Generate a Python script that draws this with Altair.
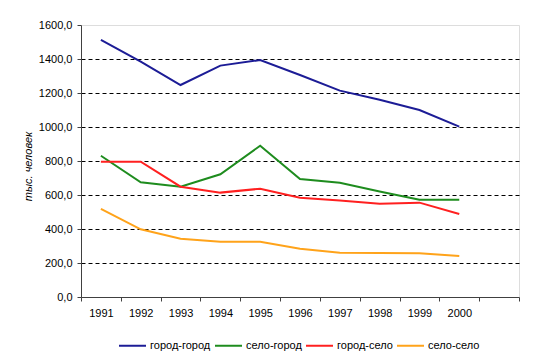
import altair as alt
import pandas as pd

years = ["1991", "1992", "1993", "1994", "1995", "1996", "1997", "1998", "1999", "2000"]
extra_band = "2001"
series_names = ["город-город", "село-город", "город-село", "село-село"]
gorod_gorod = [1512, 1385, 1247, 1361, 1394, 1306, 1214, 1160, 1100, 1002]
selo_gorod = [831, 675, 649, 722, 890, 694, 672, 620, 572, 572]
gorod_selo = [796, 796, 649, 614, 637, 584, 568, 549, 555, 488]
selo_selo = [519, 398, 343, 325, 325, 284, 261, 259, 257, 241]
colors = ["#1c1c96", "#1e8c1e", "#ff2020", "#ffa31a"]
y_ticks = [0, 200, 400, 600, 800, 1000, 1200, 1400, 1600]

rows = []
for name, vals in zip(series_names, [gorod_gorod, selo_gorod, gorod_selo, selo_selo]):
    for y, v in zip(years, vals):
        rows.append({"year": y, "value": v, "series": name})
df = pd.DataFrame(rows)

FONT = "Liberation Sans"

chart = alt.Chart(df).mark_line(strokeWidth=2).encode(
    x=alt.X("year:N",
            scale=alt.Scale(type="band", domain=years + [extra_band], paddingInner=0, paddingOuter=0),
            axis=alt.Axis(title=None, labelAngle=0, tickBand="extent", tickSize=4, labelPadding=6,
                          labelExpr="datum.value == '2001' ? '' : datum.value",
                          domainColor="#404040", tickColor="#404040", labelColor="#000000",
                          labelFont=FONT, labelFontSize=11, grid=False)),
    y=alt.Y("value:Q",
            scale=alt.Scale(domain=[0, 1600], nice=False, zero=True),
            axis=alt.Axis(title="тыс. человек", values=y_ticks, tickSize=4, labelPadding=5,
                          labelExpr="replace(format(datum.value, '.1f'), '.', ',')",
                          labelFont=FONT, labelFontSize=11, labelColor="#000000",
                          titleFont=FONT, titleFontSize=11, titleFontWeight="normal", titleFontStyle="italic",
                          titleColor="#000000", titleAngle=-90, titleX=-53, titleY=141,
                          titleAlign="center", titleBaseline="middle",
                          domainColor="#404040", tickColor="#404040",
                          grid=True, gridColor="#000000", gridDash=[4, 3], gridWidth=1,
                          gridOpacity={"condition": {"test": "datum.value == 0 || datum.value == 1600", "value": 0}, "value": 1})),
    color=alt.Color("series:N",
                    scale=alt.Scale(domain=series_names, range=colors),
                    sort=series_names,
                    legend=alt.Legend(title=None, orient="none", legendX=37, legendY=306,
                                      direction="horizontal", columns=4, columnPadding=0,
                                      symbolType="stroke", symbolSize=729, symbolStrokeWidth=2,
                                      labelFont=FONT, labelFontSize=11, labelColor="#000000",
                                      labelOffset=3)),
).properties(
    width=438, height=272,
    autosize=alt.AutoSizeParams(type="none"),
    padding={"left": 73, "top": 17, "right": 7, "bottom": 57},
).configure_view(
    stroke="#404040", strokeWidth=1
).configure(background="#ffffff")

chart.save("out.html", embed_options={"renderer": "svg", "actions": False})
